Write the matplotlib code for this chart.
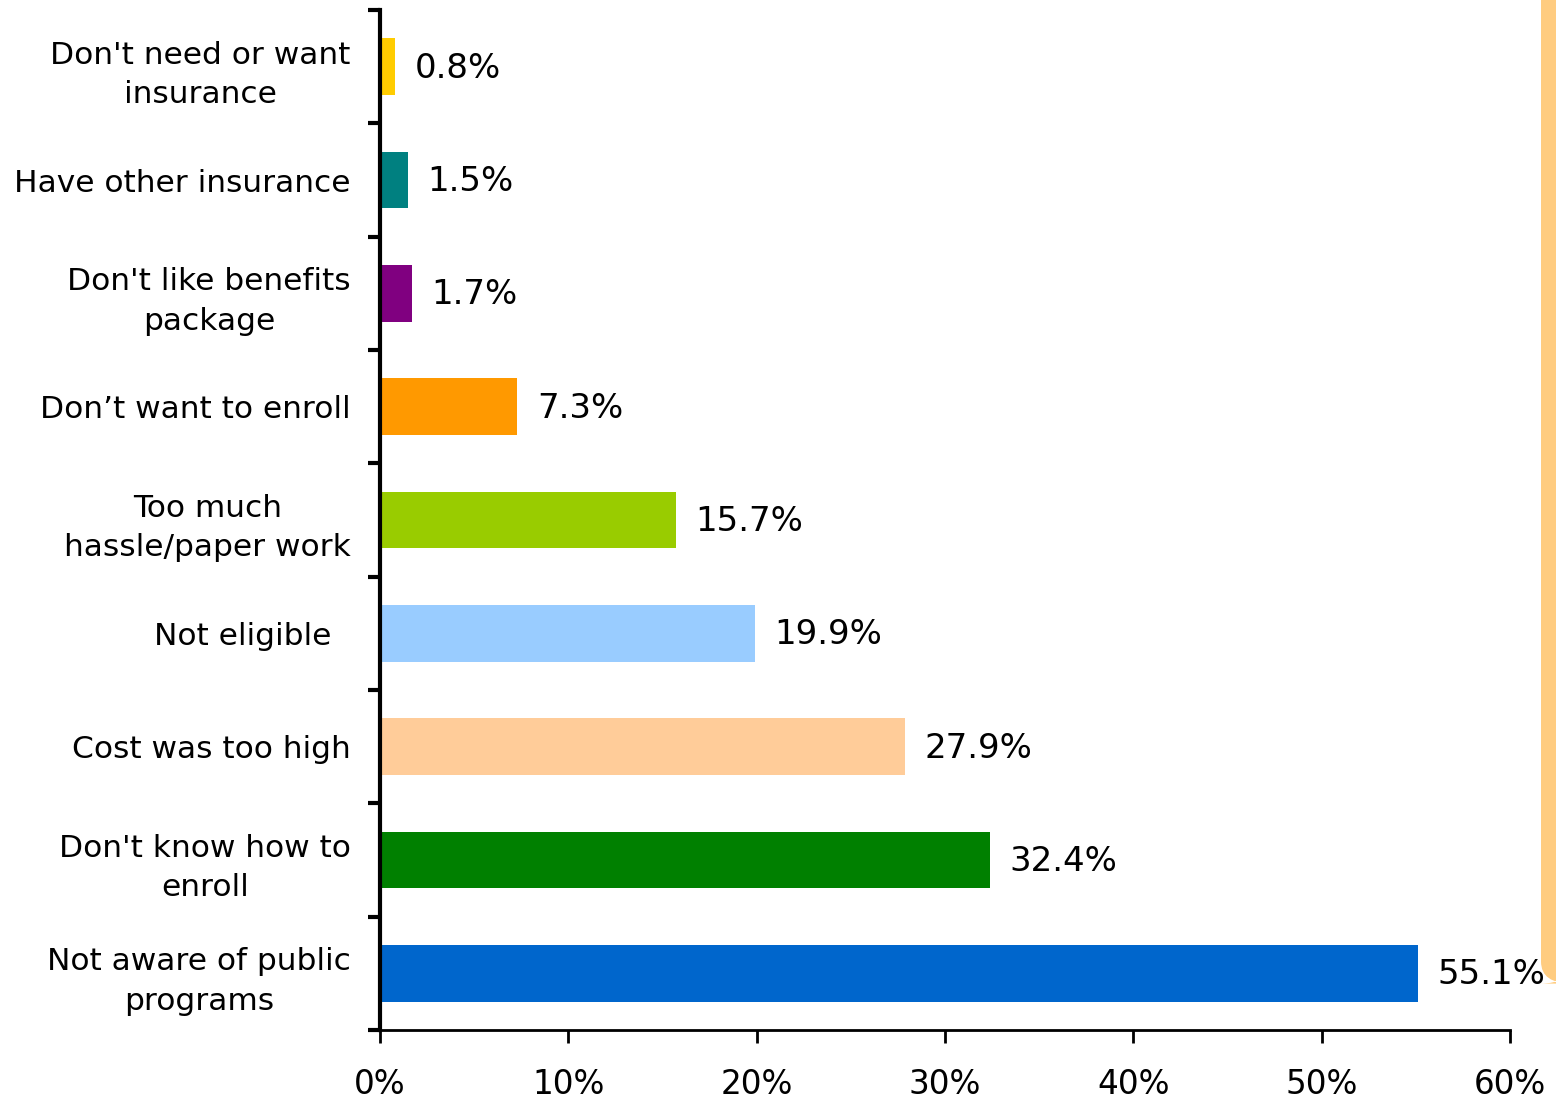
import matplotlib
matplotlib.use("Agg")
import matplotlib.pyplot as plt
from matplotlib.patches import FancyBboxPatch
from matplotlib.ticker import FuncFormatter

categories = [
    "Not aware of public\nprograms",
    "Don't know how to\nenroll",
    "Cost was too high",
    "Not eligible  ",
    "Too much\nhassle/paper work",
    "Don\u2019t want to enroll",
    "Don't like benefits\npackage",
    "Have other insurance",
    "Don't need or want\ninsurance",
]
values = [55.1, 32.4, 27.9, 19.9, 15.7, 7.3, 1.7, 1.5, 0.8]
colors = ["#0066CC", "#008000", "#FFCC99", "#99CCFF", "#99CC00",
          "#FF9900", "#800080", "#008080", "#FFCC00"]
xticks = [0, 10, 20, 30, 40, 50, 60]

plt.rcParams['font.family'] = ['DejaVu Sans']
fig = plt.figure(figsize=(15.56, 10.99), dpi=100)
ax = fig.add_axes([380/1556, 69/1099, 1130/1556, 1020/1099])

y = list(range(len(categories)))
ax.barh(y, values, height=0.5, color=colors)
for yi, v in zip(y, values):
    ax.annotate(f"{v}%", (v, yi), xytext=(14, -1), textcoords="offset points",
                va="center", ha="left", fontsize=24.5, annotation_clip=False)

ax.set_xlim(0, 60)
ax.set_ylim(-0.5, len(categories) - 0.5)
ax.set_xticks(xticks)
ax.xaxis.set_major_formatter(FuncFormatter(lambda v, p: f"{int(v)}%"))
ax.set_yticks(y)
ax.set_yticklabels(categories, multialignment="center", linespacing=1.45)
ax.set_yticks([i - 0.5 for i in range(len(categories) + 1)], minor=True)
ax.tick_params(axis="y", which="major", length=0, pad=21, labelsize=22.5)
ax.tick_params(axis="y", which="minor", length=9, width=3, direction="out")
ax.tick_params(axis="x", which="major", length=9, width=2, direction="out",
               pad=18, labelsize=23.5)
for s in ["top", "right"]:
    ax.spines[s].set_visible(False)
ax.spines["left"].set_linewidth(3)
ax.spines["bottom"].set_linewidth(2)

# decorative orange strip at right edge
strip = FancyBboxPatch((1541/1556, 0.105), 30/1556, 0.95,
                       boxstyle="round,pad=0,rounding_size=0.02",
                       transform=fig.transFigure, facecolor="#FFCC80",
                       edgecolor="none", zorder=0, clip_on=False)
fig.patches.append(strip)

fig.savefig("out.png", dpi=100)
